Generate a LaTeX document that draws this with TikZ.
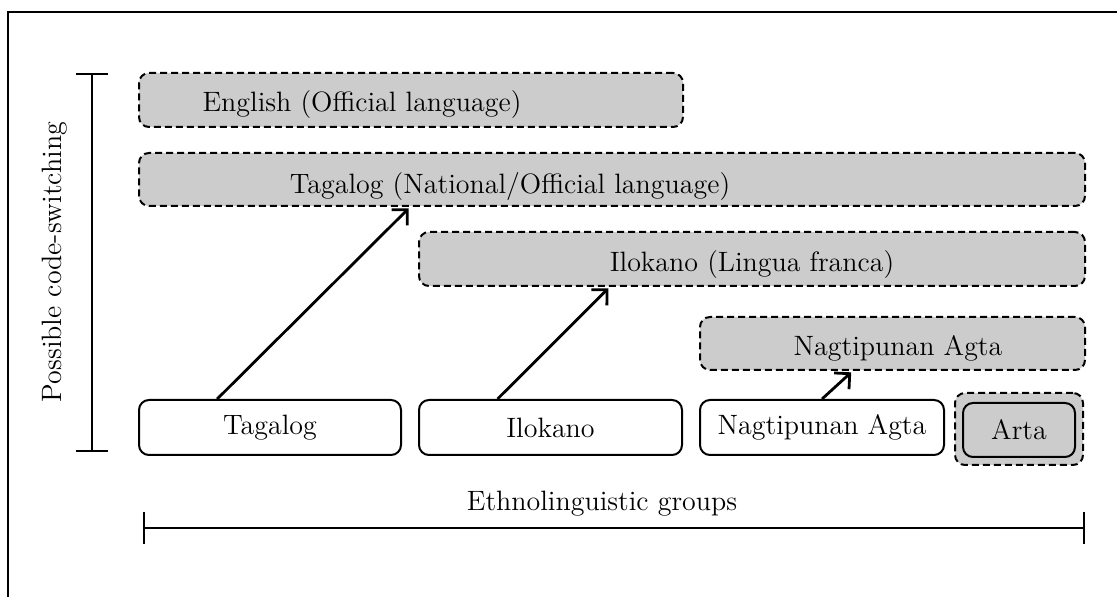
\documentclass[tikz,border=0pt]{standalone}
\usepackage{tikz}
\usetikzlibrary{arrows.meta, calc}
\tikzset{
	langbox/.style={
		draw,
		dash pattern=on 3.5pt off 2pt,
		rounded corners=5pt,
		fill=black!20,
		line width=1pt,
		inner sep=0pt
	},
	groupbox/.style={
		draw,
		rounded corners=5pt,
		fill=white,
		line width=1pt,
		inner sep=0pt
	}
}

\begin{document}
\begin{tikzpicture}[x=0.5pt, y=-0.5pt, font=\fontsize{14}{16}\selectfont]
	\tikzset{edge/.style={-{Straight Barb[length=5.5pt,width=11pt]}, line width=1.4pt, shorten >=1pt}}
	\tikzset{spanbar/.style={{Bar[width=16pt]}-{Bar[width=16pt]}, line width=1pt}}
	\useasboundingbox (0,0) rectangle (1117,597);
	\draw[line width=0.8pt] (8,12) rectangle (1160,640);
	
	% languages used for code-switching
	\node(eng) at (411,100) [langbox, minimum width=272pt, minimum height=27pt] {};
	\node(eng_txt) at (362,105) {English (Official language)};
	\node(tgl_nat) at (612,179.5) [langbox, minimum width=473pt, minimum height=26.5pt] {};
	\node(tgl_nat_txt) at (510,187) {Tagalog (National/Official language)};
	\node(ilo_lf) at (752,259) [langbox, minimum width=333pt, minimum height=27pt] {};
	\node(ilo_lf_txt) at (752,265) {Ilokano (Lingua franca)};
	\node(nag_l) at (892.5,343.5) [langbox, minimum width=192.5pt, minimum height=26.5pt] {};
	\node(nag_l_txt) at (898,348) {Nagtipunan Agta};
	
	% ethnolinguistic groups
	\node(tgl) at (270,427.5) [groupbox, minimum width=131pt, minimum height=27.5pt] {Tagalog};
	\node(ilo) at (550.5,427.5) [groupbox, minimum width=131.5pt, minimum height=27.5pt] {Ilokano};
	\node(nag) at (822,427.5) [groupbox, minimum width=122pt, minimum height=27.5pt] {Nagtipunan Agta};
	\node(arta_l) at (1019,429) [langbox, minimum width=64pt, minimum height=36pt] {};
	\node(arta) at (1019,430) [groupbox, fill=black!20, minimum width=56pt, minimum height=27pt] {Arta};
	
	\draw[edge] ($(tgl.north west)!0.30!(tgl.north east)$) -- ($(tgl_nat.south west)!0.287!(tgl_nat.south east)$);
	\draw[edge] ($(ilo.north west)!0.30!(ilo.north east)$) -- ($(ilo_lf.south west)!0.287!(ilo_lf.south east)$);
	\draw[edge] ($(nag.north west)!0.5!(nag.north east)$) -- ($(nag_l.south west)!0.397!(nag_l.south east)$);
	
	% axes
	\coordinate(cs_top) at (92,73);
	\coordinate(cs_bot) at (92,452);
	\draw[spanbar] (cs_top) -- (cs_bot);
	\node(cs_txt) at (55,262) [rotate=90] {Possible code-switching};
	
	\coordinate(eg_left) at (143,528);
	\coordinate(eg_right) at (1085,528);
	\draw[spanbar] (eg_left) -- (eg_right);
	\node(eg_txt) at (602,504) {Ethnolinguistic groups};
	
\end{tikzpicture}
\end{document}
